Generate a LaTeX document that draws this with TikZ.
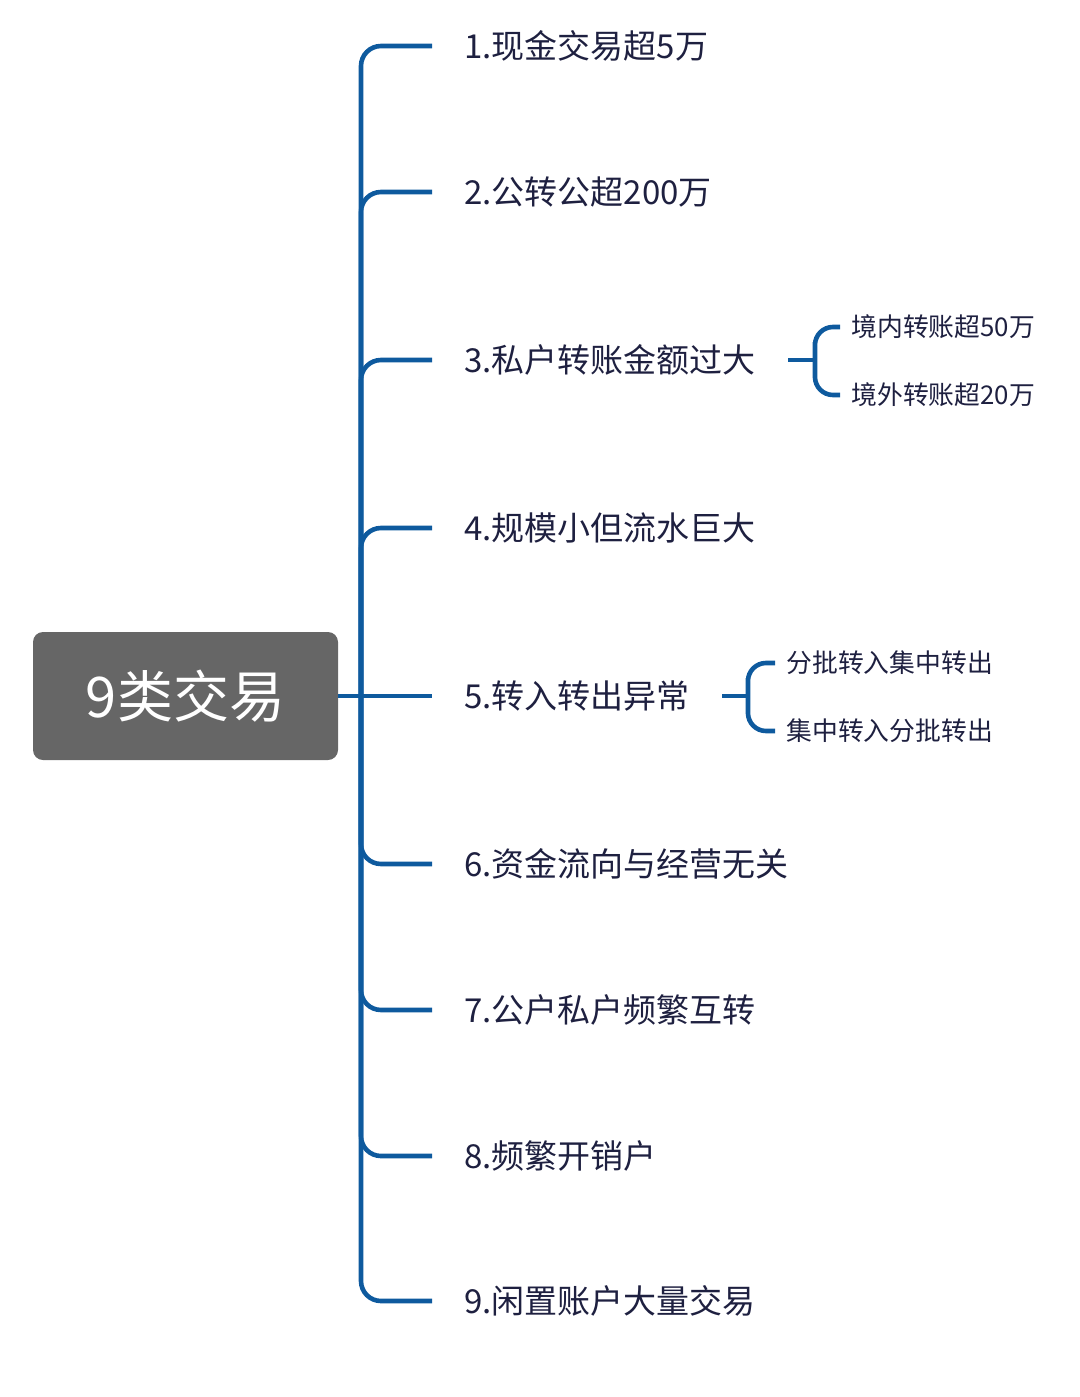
\documentclass[tikz,border=0pt]{standalone}
\usepackage{fontspec}
\setmainfont{Noto Sans CJK SC}
\usetikzlibrary{positioning}
\definecolor{linkblue}{RGB}{14,90,158}
\definecolor{rootgray}{RGB}{102,102,102}
\definecolor{inkdark}{RGB}{30,32,64}

\begin{document}
\begin{tikzpicture}[
  x=0.5pt, y=-0.5pt,
  root/.style  = {fill=rootgray, rounded corners=5pt, text=white,
                  font=\fontsize{28}{30}\selectfont,
                  minimum width=152.5pt, minimum height=64pt, inner sep=0pt},
  item/.style  = {anchor=west, text=inkdark, inner xsep=16pt, inner ysep=0pt,
                  font=\fontsize{16.5}{19}\selectfont},
  sub/.style   = {anchor=west, text=inkdark, inner xsep=5.5pt, inner ysep=0pt,
                  font=\fontsize{12.9}{15}\selectfont},
  link/.style  = {draw=linkblue, line width=2.3pt, rounded corners=10pt},
  sublink/.style = {draw=linkblue, line width=2.3pt, rounded corners=9pt}
]
\useasboundingbox (0,0) rectangle (1080,1397);

\node[root] (root) at (185.5,696) {9类交易};
\coordinate (hub) at (361,696);

\node[item] (it1) at (432,46)   {1.现金交易超5万};
\node[item] (it2) at (432,192)  {2.公转公超200万};
\node[item] (it3) at (432,360)  {3.私户转账金额过大};
\node[item] (it4) at (432,528)  {4.规模小但流水巨大};
\node[item] (it5) at (432,696)  {5.转入转出异常};
\node[item] (it6) at (432,864)  {6.资金流向与经营无关};
\node[item] (it7) at (432,1010) {7.公户私户频繁互转};
\node[item] (it8) at (432,1156) {8.频繁开销户};
\node[item] (it9) at (432,1301) {9.闲置账户大量交易};

% sub branches
\node[sub] (s31) at (840,327) {境内转账超50万};
\node[sub] (s32) at (840,395) {境外转账超20万};
\node[sub] (s51) at (775,663) {分批转入集中转出};
\node[sub] (s52) at (775,731) {集中转入分批转出};
\coordinate (b3) at (815,360);
\coordinate (b5) at (748,696);

\draw[link] (root.east) -- (it5.west);
\foreach \i in {1,2,3,4,6,7,8,9}
  \draw[link] (hub) |- (it\i.west);

\draw[sublink] (it3.east) -- (b3);
\draw[sublink] (s31.west) -| (b3) |- (s32.west);
\draw[sublink] (it5.east) -- (b5);
\draw[sublink] (s51.west) -| (b5) |- (s52.west);

\end{tikzpicture}
\end{document}
